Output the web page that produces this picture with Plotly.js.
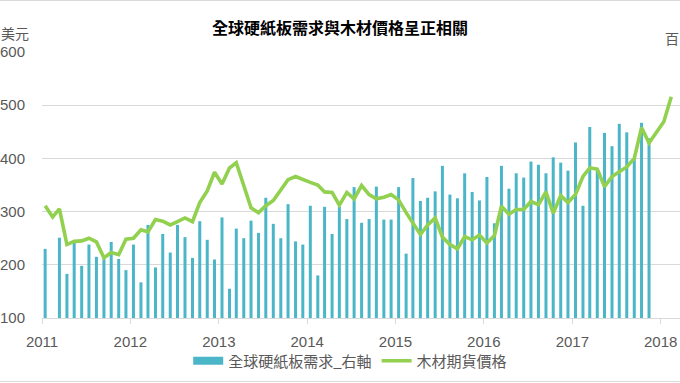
<!DOCTYPE html>
<html>
<head>
<meta charset="utf-8">
<script src="https://cdn.plot.ly/plotly-3.0.1.min.js"></script>
<style>html,body{margin:0;padding:0;background:#fff;}#chart{width:680px;height:383px;}</style>
</head>
<body>
<div id="chart"></div>
<script>
// Monthly series starting January 2011
const startYear = 2011;
const yearLabels = ['2011','2012','2013','2014','2015','2016','2017','2018'];
const demandName = '全球硬紙板需求_右軸';
const lumberName = '木材期貨價格';
const chartTitle = '全球硬紙板需求與木材價格呈正相關';
const leftUnit = '美元';
const rightUnit = '百';

// Global containerboard demand (right axis), Jan 2011 - Nov 2017 (Feb 2011 missing)
const demand = [
  230, null, 251, 183, 241, 198, 238, 215, 211, 243, 211, 190,
  238, 167, 275, 195, 258, 223, 275, 252, 213, 282, 247, 210,
  289, 155, 268, 250, 283, 260, 326, 277, 250, 314, 244, 238,
  311, 180, 309, 258, 309, 286, 346, 279, 286, 347, 285, 285,
  346, 221, 363, 320, 326, 338, 386, 332, 325, 372, 337, 321,
  365, 278, 386, 343, 372, 364, 394, 388, 372, 402, 392, 377,
  430, 311, 459, 378, 448, 423, 465, 449, 400, 467, 438
];

// Lumber futures price (USD), Jan 2011 - Feb 2018
const lumber = [
  311, 290, 305, 238, 244, 245, 250, 243, 213, 223, 219, 248,
  250, 266, 262, 285, 282, 275, 281, 288, 281, 317, 339, 374,
  352, 382, 392, 347, 307, 298, 311, 321, 341, 360, 366, 360,
  355, 350, 337, 336, 312, 336, 324, 349, 332, 324, 327, 332,
  322, 298, 279, 257, 275, 288, 252, 238, 230, 253, 247, 256,
  241, 255, 310, 295, 304, 304, 319, 313, 337, 297, 330, 317,
  332, 366, 382, 380, 347, 366, 375, 384, 400, 458, 429, 449,
  469, 516
];

function monthDate(i) {
  const y = startYear + Math.floor(i / 12);
  const m = (i % 12) + 1;
  return y + '-' + String(m).padStart(2, '0') + '-14';
}
const lumberX = lumber.map((_, i) => monthDate(i));
const demandX = demand.map((_, i) => monthDate(i));
const yearTicks = yearLabels.map(y => y + '-01-01');

const fontTick = {family: 'Liberation Sans, Arial, sans-serif', size: 15, color: '#595959'};
const fontCJK = 'Noto Sans CJK TC, Noto Sans CJK SC, sans-serif';
const DAY = 86400000;

const traces = [
  {
    type: 'bar', name: demandName, x: demandX, y: demand,
    yaxis: 'y', marker: {color: '#4bb6c7', line: {width: 0}},
    width: 12.4 * DAY, showlegend: false, legendgroup: 'd', hoverinfo: 'x+y'
  },
  {
    // legend swatch for the bar series
    type: 'scatter', mode: 'lines', name: demandName, x: [null], y: [null],
    yaxis: 'y', line: {color: '#4bb6c7', width: 8}, legendgroup: 'd', showlegend: true
  },
  {
    type: 'scatter', mode: 'lines', name: lumberName, x: lumberX, y: lumber,
    yaxis: 'y2', line: {color: '#92d050', width: 3.6}
  }
];

const layout = {
  width: 680, height: 383,
  margin: {l: 42, r: 0, t: 52, b: 65, pad: 0},
  paper_bgcolor: '#ffffff', plot_bgcolor: '#ffffff',
  title: {
    text: '<b>' + chartTitle + '</b>',
    font: {family: fontCJK, size: 16, color: '#000000'},
    x: 0.5, xref: 'container', xanchor: 'center',
    y: 1 - 28 / 383, yref: 'container', yanchor: 'middle'
  },
  showlegend: true,
  legend: {
    orientation: 'h', x: 0.515, xref: 'container', xanchor: 'center',
    y: 1 - 361 / 383, yref: 'container', yanchor: 'middle',
    font: {family: fontCJK, size: 15, color: '#595959'},
    bgcolor: 'rgba(0,0,0,0)', itemclick: false
  },
  xaxis: {
    type: 'date',
    range: ['2011-01-01', '2018-03-22'],
    tickmode: 'array', tickvals: yearTicks, ticktext: yearLabels,
    ticks: 'outside', ticklen: 5, tickcolor: '#d9d9d9', tickwidth: 1,
    showline: true, linecolor: '#d9d9d9', linewidth: 1,
    showgrid: false, zeroline: false,
    tickfont: fontTick, ticklabelstandoff: 5
  },
  yaxis: {
    side: 'right', range: [100, 600],
    showticklabels: false, showgrid: false, zeroline: false, showline: false, ticks: ''
  },
  yaxis2: {
    overlaying: 'y', side: 'left', anchor: 'x', range: [100, 600],
    tickvals: [100, 200, 300, 400, 500, 600],
    showgrid: true, gridcolor: '#d9d9d9', gridwidth: 1,
    zeroline: false, showline: false, ticks: '',
    tickfont: fontTick, ticklabelstandoff: 16
  },
  annotations: [
    {text: leftUnit, xref: 'paper', yref: 'paper', x: -42 / 638, y: (318 - 33) / 266,
     xanchor: 'left', yanchor: 'middle', showarrow: false, borderpad: 0,
     font: {family: fontCJK, size: 14, color: '#595959'}},
    {text: rightUnit, xref: 'paper', yref: 'paper', x: 1, y: (318 - 38) / 266,
     xanchor: 'right', yanchor: 'middle', showarrow: false, borderpad: 0,
     font: {family: fontCJK, size: 14, color: '#595959'}}
  ],
  shapes: [
    {type: 'line', xref: 'paper', yref: 'paper', x0: -42 / 638, x1: 1, y0: (318 - 0.5) / 266, y1: (318 - 0.5) / 266,
     line: {color: '#d9d9d9', width: 1}},
    {type: 'line', xref: 'paper', yref: 'paper', x0: -42 / 638, x1: 1, y0: (318 - 381.5) / 266, y1: (318 - 381.5) / 266,
     line: {color: '#d9d9d9', width: 1}}
  ]
};

Plotly.newPlot('chart', traces, layout, {displayModeBar: false, staticPlot: true});
</script>
</body>
</html>
